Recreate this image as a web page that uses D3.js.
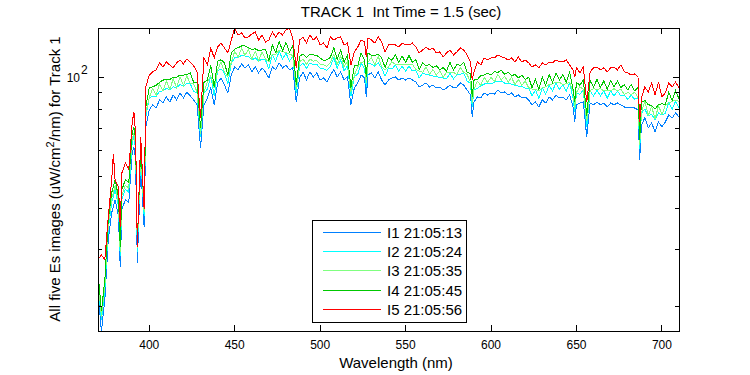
<!DOCTYPE html>
<html>
<head>
<meta charset="utf-8">
<script src="https://cdn.jsdelivr.net/npm/d3@7"></script>
<style>
  body { margin: 0; background: #fff; }
  text { font-family: "Liberation Sans", Arial, Helvetica, sans-serif; fill: #000; }
</style>
</head>
<body>
<div id="chart"></div>
<script>
// wavelengths (nm), shared by all five images
var wavelength = [370,372,374,376,378,379,380,382,383,384,386,388,390,391,392,393,395,397,398,
  400,402,404,406,408,410,412,414,416,418,420,422,424,426,428,430,
  432,434,436,438,440,442,444,446,448,450,452,454,456,458,460,462,464,466,468,470,
  472,474,476,478,480,482,484,486,488,490,492,494,496,498,500,502,504,506,508,510,
  512,514,516,518,520,522,524,526,527,
  528,530,532,534,536,538,540,542,544,546,548,550,552,554,556,558,560,562,564,566,
  568,570,572,574,576,578,580,582,584,586,588,589,
  590,592,594,596,598,600,602,604,606,608,610,612,614,616,618,620,622,624,626,628,
  630,632,634,636,638,640,642,644,646,648,649,
  650,652,654,656,658,660,662,664,666,668,670,672,674,676,678,680,682,684,686,687,
  688,690,692,694,696,698,700,702,704,706,708,710];

// Es, uW/cm^2/nm
var I1 = [22.1,16.9,21.0,32.0,38.7,40.4,42.4,37.6,26.5,39.6,42.4,41.6,58.9,61.4,56.1,27.3,53.4,35.1,70.6,
  79.6,82.4,80.6,85.3,83.5,87.1,84.1,88.3,85.3,89.6,86.5,90.2,87.7,85.3,82.4,61.0,
  82.4,86.5,92.8,82.4,96.1,99.5,94.7,89.6,101.6,107.5,105.3,109.8,106.8,109.0,103.8,107.5,103.1,106.8,103.8,99.5,
  107.5,105.3,110.6,106.8,109.0,105.3,106.8,84.1,99.5,103.8,98.1,103.8,100.2,103.1,98.1,99.5,96.7,101.6,105.3,100.2,
  103.8,98.1,100.2,82.4,92.8,96.1,101.6,99.5,87.1,
  101.6,103.1,99.5,103.8,98.1,94.7,98.1,99.5,100.2,98.1,99.5,98.1,99.5,98.1,96.7,93.4,94.7,96.1,93.4,94.7,
  92.8,93.4,91.5,92.8,94.7,92.8,93.4,96.1,94.7,91.5,88.3,75.7,
  84.1,87.1,86.5,89.6,88.3,89.6,88.9,91.5,89.6,90.2,88.3,89.6,87.1,88.3,86.5,87.1,85.3,82.4,84.1,81.2,
  85.3,83.5,87.1,85.3,88.3,86.5,87.1,85.3,88.3,81.2,73.1,
  82.4,83.5,84.1,65.9,83.5,82.4,84.1,82.4,83.5,81.2,83.5,82.4,83.5,82.4,81.2,80.6,81.2,80.6,79.6,56.1,
  71.6,75.2,70.1,72.6,68.2,73.1,70.6,73.1,76.8,75.2,77.9,75.7];

var I2 = [23.8,18.2,22.6,34.4,41.6,43.4,45.6,40.4,28.5,42.6,45.6,44.7,63.3,66.0,60.3,29.3,57.4,37.7,75.9,
  86.5,87.5,87.5,90.5,91.0,92.5,91.5,93.5,93.0,95.0,94.0,95.8,95.5,90.5,89.5,65.6,
  89.5,92.0,100.8,87.5,104.5,106.0,103.0,95.5,110.5,114.5,114.5,116.8,116.0,116.0,112.8,114.5,112.0,113.5,112.8,106.0,
  116.8,112.0,120.0,113.5,118.5,112.0,116.0,89.5,108.0,110.5,106.5,110.5,109.0,109.5,106.5,106.0,105.0,108.0,114.5,106.5,
  112.8,104.5,108.8,87.5,100.8,102.0,110.5,106.0,93.6,
  110.5,109.5,108.0,110.5,106.5,100.8,106.5,106.0,108.8,104.5,108.0,104.5,108.0,104.5,105.0,99.5,102.8,102.0,101.5,100.8,
  100.8,99.5,99.5,98.8,103.0,98.8,101.5,102.0,103.0,97.5,95.8,81.4,
  91.3,92.6,94.0,95.3,96.0,95.3,96.6,97.4,97.3,96.0,96.0,95.3,94.6,94.0,94.0,92.6,92.7,87.7,91.4,86.4,
  92.7,88.9,94.6,90.8,96.0,92.0,94.6,90.8,96.0,86.4,78.6,
  89.5,88.8,91.4,70.8,90.8,87.7,91.4,87.7,90.8,86.4,90.8,87.7,90.8,87.7,88.2,85.7,88.2,85.7,86.5,60.3,
  77.8,80.0,76.2,77.2,74.1,77.8,76.7,77.8,83.4,80.0,84.5,80.6];

var I3 = [24.4,18.7,23.2,35.4,42.8,44.6,46.9,41.5,29.3,43.8,46.9,46.0,65.1,67.8,62.0,30.2,59.0,38.8,78.0,
  86.8,92.3,88.0,95.5,91.0,97.5,91.8,98.8,93.0,100.2,94.5,101.0,95.5,95.5,90.0,67.4,
  90.0,97.0,101.0,92.5,105.0,111.5,103.5,100.5,111.0,120.0,115.0,122.5,116.5,121.5,113.5,120.0,112.5,119.5,113.5,111.5,
  117.5,117.5,121.0,119.5,119.0,117.5,116.5,92.0,111.5,113.5,109.5,113.5,112.0,112.5,109.5,109.0,108.0,111.0,117.5,109.5,
  116.0,107.5,112.0,90.5,101.5,107.5,111.0,111.5,96.2,
  111.0,115.0,109.0,116.0,107.5,105.5,107.5,111.5,109.5,109.5,109.0,109.5,109.0,109.5,105.5,104.5,103.5,107.5,102.0,105.5,
  101.5,104.5,100.0,103.5,103.5,103.5,102.0,107.0,103.5,102.0,96.5,83.6,
  91.8,97.3,94.5,100.0,96.5,100.0,97.0,102.0,98.0,100.8,96.5,100.0,95.0,98.5,94.5,97.5,93.0,92.0,92.0,90.8,
  93.0,93.5,95.0,95.5,96.5,96.5,95.0,95.5,96.5,90.5,80.8,
  90.0,93.5,91.8,73.5,91.0,92.3,91.8,92.3,91.0,90.8,91.0,92.3,91.0,92.0,88.5,90.0,88.5,90.0,87.0,62.0,
  78.0,84.5,76.5,81.5,74.5,82.0,77.0,82.0,83.5,84.5,85.0,84.5];

var I4 = [25.4,19.4,24.2,36.8,44.5,46.5,48.8,43.2,30.5,45.5,48.8,47.8,67.7,70.6,64.5,31.4,61.4,40.4,81.2,
  93.0,93.5,94.5,96.5,98.0,98.5,98.5,100.0,100.0,101.5,101.5,102.0,103.0,96.5,96.5,70.2,
  96.5,98.0,108.5,93.5,112.0,113.0,110.5,101.5,118.5,121.8,123.0,124.5,124.5,123.0,121.5,122.0,120.5,121.0,121.5,112.5,
  125.5,119.0,128.5,120.5,127.5,119.5,124.5,95.0,116.0,117.5,115.0,117.5,117.0,116.5,114.5,112.5,113.0,115.0,123.0,113.5,
  121.0,111.0,117.0,93.0,108.5,108.5,118.5,112.5,100.2,
  118.5,116.5,116.5,117.5,114.5,107.0,114.5,112.5,117.0,111.0,116.0,111.0,116.5,111.0,113.0,105.5,110.5,108.5,109.5,107.0,
  108.5,105.5,107.0,104.5,111.0,105.0,109.5,108.5,111.0,103.5,102.5,87.1,
  98.0,98.5,101.0,101.5,103.0,101.5,104.0,103.5,105.0,102.0,103.5,101.0,102.0,99.5,101.5,98.5,100.0,93.0,98.5,92.0,
  100.0,94.5,102.0,96.5,103.0,98.0,102.0,96.5,103.5,92.0,84.1,
  96.5,94.5,98.0,76.5,97.5,93.5,98.5,93.0,97.5,92.0,97.5,93.5,97.5,93.0,95.0,91.5,95.0,91.0,93.0,64.5,
  84.0,85.0,82.5,82.0,80.0,82.5,83.0,82.5,90.0,85.0,91.0,86.0];

var I5 = [27.9,28.8,27.9,37.6,48.7,58.5,48.7,46.4,35.1,51.2,54.9,52.3,72.6,78.4,67.7,30.5,65.9,39.6,93.4,
  101.6,103.8,105.3,110.6,107.5,111.3,109.0,106.8,110.6,112.9,109.8,113.7,111.3,108.3,103.8,75.2,
  114.5,109.0,122.8,114.5,123.6,127.1,122.8,118.6,129.8,141.2,134.5,136.4,131.7,132.6,135.4,137.3,129.8,134.5,128.0,129.8,
  137.3,132.6,137.3,134.5,139.3,141.2,131.7,106.8,129.8,132.6,127.1,134.5,129.8,132.6,125.4,127.1,122.8,132.6,129.8,131.7,
  132.6,125.4,127.1,109.0,119.4,123.6,129.8,128.0,115.3,
  131.7,129.8,127.1,132.6,128.0,119.4,125.4,125.4,125.4,123.6,127.1,125.4,125.4,127.1,123.6,118.6,121.1,123.6,121.1,122.8,
  118.6,119.4,115.3,118.6,121.1,116.9,119.4,122.8,121.1,116.9,111.3,98.1,
  103.8,111.3,109.0,114.5,112.9,114.5,114.5,116.9,115.3,114.5,112.9,114.5,111.3,115.3,111.3,112.9,110.6,107.5,109.0,106.8,
  110.6,109.0,111.3,110.6,112.9,111.3,111.3,112.9,109.0,105.3,100.2,
  106.8,103.1,107.5,84.1,103.8,106.8,107.5,105.3,106.8,103.8,106.8,107.5,105.3,109.0,103.8,103.1,101.6,102.3,100.2,73.1,
  86.5,93.4,90.2,96.1,88.3,96.7,87.1,89.6,96.1,93.4,96.7,92.8];

var seriesNames = ["I1 21:05:13", "I2 21:05:24", "I3 21:05:35", "I4 21:05:45", "I5 21:05:56"];
var seriesColors = ["#0080ff", "#00ffff", "#80ff80", "#00c800", "#ff0000"];
var seriesValues = [I1, I2, I3, I4, I5];

var xLim = [370, 710];
var yLim = [16.9, 141.2];
var xTicks = [400, 450, 500, 550, 600, 650, 700];
var yMajor = [100];
var yMinor = [20, 30, 40, 50, 60, 70, 80, 90];

var margin = {top: 28, right: 71, bottom: 44, left: 98},
    width = 750 - margin.left - margin.right,
    height = 375 - margin.top - margin.bottom;

var svg = d3.select("#chart").append("svg")
    .attr("width", 750)
    .attr("height", 375)
    .style("display", "block");

var g = svg.append("g")
    .attr("transform", "translate(" + margin.left + "," + margin.top + ")");

var x = d3.scaleLinear().domain(xLim).range([0, width]);
var y = d3.scaleLog().domain(yLim).range([height, 0]);

g.append("clipPath").attr("id", "clip")
  .append("rect").attr("width", width).attr("height", height);

var line = d3.line()
    .defined(function(d) { return d.v != null; })
    .x(function(d) { return x(d.w); })
    .y(function(d) { return y(d.v); });

var series = seriesValues.map(function(vals, i) {
  return {
    name: seriesNames[i],
    color: seriesColors[i],
    points: wavelength.map(function(w, j) { return {w: w, v: vals[j]}; })
  };
});

// drawn I1 first so I5 ends up on top
g.append("g").attr("clip-path", "url(#clip)")
  .selectAll("path")
  .data(series)
  .enter().append("path")
    .attr("d", function(d) { return line(d.points); })
    .attr("fill", "none")
    .attr("stroke", function(d) { return d.color; })
    .attr("stroke-width", 1)
    .style("shape-rendering", "crispEdges");

// ticks point inward, on all four sides
var tickG = g.append("g").attr("stroke", "#000").style("shape-rendering", "crispEdges");
xTicks.forEach(function(t) {
  tickG.append("line").attr("x1", x(t)).attr("x2", x(t)).attr("y1", height).attr("y2", height - 6);
  tickG.append("line").attr("x1", x(t)).attr("x2", x(t)).attr("y1", 0).attr("y2", 6);
});
yMajor.concat(yMinor).forEach(function(t) {
  var len = yMajor.indexOf(t) >= 0 ? 6 : 4;
  tickG.append("line").attr("x1", 0).attr("x2", len).attr("y1", y(t)).attr("y2", y(t));
  tickG.append("line").attr("x1", width).attr("x2", width - len).attr("y1", y(t)).attr("y2", y(t));
});

g.append("rect")
  .attr("width", width).attr("height", height)
  .attr("fill", "none").attr("stroke", "#000")
  .style("shape-rendering", "crispEdges");

g.selectAll(".xlab")
  .data(xTicks)
  .enter().append("text")
    .attr("class", "xlab")
    .attr("x", function(d) { return x(d); })
    .attr("y", height + 18)
    .attr("text-anchor", "middle")
    .style("font-size", "12px")
    .text(function(d) { return d; });

yMajor.forEach(function(t) {
  g.append("text")
    .attr("x", -18).attr("y", y(t) + 5)
    .attr("text-anchor", "end")
    .style("font-size", "12px")
    .text("10");
  g.append("text")
    .attr("x", -17).attr("y", y(t) - 3)
    .style("font-size", "12px")
    .text(Math.round(Math.log10(t)));
});

// title and axis labels
svg.append("text")
  .attr("x", 401).attr("y", 17)
  .attr("text-anchor", "middle")
  .style("font-size", "15px")
  .style("white-space", "pre")
  .text("TRACK 1  Int Time = 1.5 (sec)");

svg.append("text")
  .attr("x", 396).attr("y", 368)
  .attr("text-anchor", "middle")
  .style("font-size", "15px")
  .text("Wavelength (nm)");

var ylab = svg.append("text")
  .attr("transform", "translate(60,179) rotate(-90)")
  .attr("text-anchor", "middle")
  .style("font-size", "15px");
ylab.append("tspan").text("All five Es images (uW/cm");
ylab.append("tspan").attr("dy", -6).style("font-size", "11px").text("2");
ylab.append("tspan").attr("dy", 6).text("/nm) for Track 1");

// legend
var legend = svg.append("g").attr("transform", "translate(312,220)");
legend.append("rect")
  .attr("width", 154).attr("height", 102)
  .attr("fill", "#fff").attr("stroke", "#000")
  .style("shape-rendering", "crispEdges");

var items = legend.selectAll(".item")
  .data(series)
  .enter().append("g")
    .attr("class", "item")
    .attr("transform", function(d, i) { return "translate(0," + (12.3 + i * 19.25) + ")"; });
items.append("line")
  .attr("x1", 11).attr("x2", 69)
  .attr("stroke", function(d) { return d.color; })
  .style("shape-rendering", "crispEdges");
items.append("text")
  .attr("x", 75).attr("y", 5.5)
  .style("font-size", "15px")
  .text(function(d) { return d.name; });
</script>
</body>
</html>
